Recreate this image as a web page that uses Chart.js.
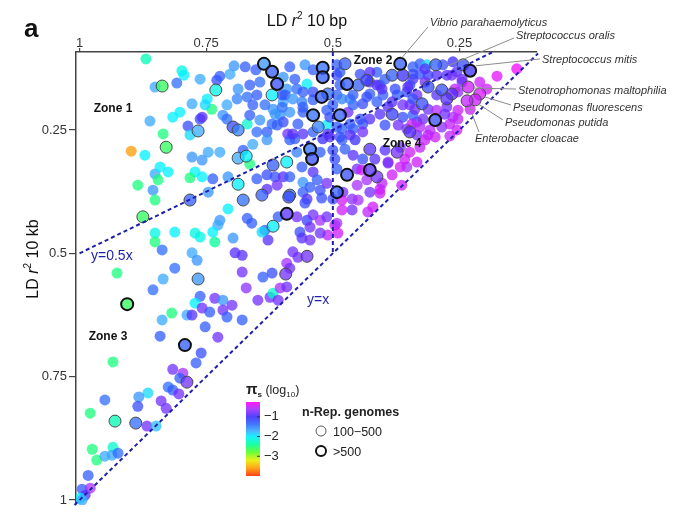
<!DOCTYPE html>
<html>
<head>
<meta charset="utf-8">
<script src="https://cdn.jsdelivr.net/npm/chart.js@4.4.1/dist/chart.umd.min.js"></script>
<style>
  html, body { margin: 0; padding: 0; background: #fff; }
  #wrap { width: 680px; height: 524px; position: relative; }
</style>
</head>
<body>
<div id="wrap"><canvas id="ldChart"></canvas></div>
<script>
// one point per species: LD r2 at 10 bp (x) against LD r2 at 10 kb (y)
const ld10bp = [
  0.869,0.798,0.794,0.837,0.851,0.808,0.762,0.729,0.723,0.731,
  0.695,0.673,0.703,0.636,0.620,0.610,0.620,0.652,0.644,0.664,
  0.687,0.669,0.689,0.709,0.748,0.739,0.752,0.778,0.802,0.816,
  0.861,0.835,0.829,0.898,0.871,0.786,0.766,0.762,0.758,0.782,
  0.717,0.709,0.697,0.687,0.669,0.664,0.644,0.650,0.630,0.620,
  0.604,0.598,0.618,0.634,0.658,0.650,0.598,0.600,0.630,0.658,
  0.687,0.671,0.664,0.677,0.723,0.746,0.758,0.778,0.772,0.782,
  0.758,0.737,0.707,0.687,0.650,0.630,0.618,0.614,0.598,0.630,
  0.640,0.677,0.782,0.851,0.825,0.841,0.845,0.855,0.885,0.851,
  0.591,0.589,0.585,0.555,0.539,0.520,0.520,0.551,0.571,0.591,
  0.522,0.510,0.539,0.561,0.539,0.559,0.585,0.569,0.529,0.512,
  0.559,0.575,0.545,0.541,0.561,0.539,0.531,0.559,0.585,0.610,
  0.585,0.559,0.525,0.492,0.492,0.496,0.472,0.452,0.443,0.427,
  0.413,0.433,0.407,0.452,0.480,0.500,0.462,0.373,0.397,0.417,
  0.441,0.460,0.476,0.482,0.456,0.427,0.348,0.334,0.354,0.391,
  0.364,0.334,0.348,0.334,0.362,0.383,0.407,0.427,0.441,0.460,
  0.482,0.486,0.470,0.460,0.441,0.413,0.391,0.348,0.334,0.354,
  0.373,0.401,0.427,0.450,0.433,0.472,0.486,0.476,0.446,0.413,
  0.383,0.367,0.362,0.342,0.427,0.407,0.492,0.466,0.500,0.506,
  0.585,0.506,0.520,0.571,0.525,0.500,0.545,0.551,0.328,0.314,
  0.297,0.283,0.263,0.243,0.229,0.255,0.275,0.295,0.312,0.328,
  0.342,0.348,0.312,0.285,0.265,0.275,0.233,0.210,0.219,0.235,
  0.176,0.137,0.210,0.196,0.245,0.253,0.295,0.324,0.342,0.312,
  0.295,0.275,0.253,0.229,0.263,0.279,0.298,0.322,0.342,0.354,
  0.328,0.308,0.285,0.269,0.298,0.318,0.367,0.358,0.328,0.587,
  0.591,0.618,0.551,0.593,0.766,0.707,0.723,0.727,0.737,0.733,
  0.772,0.778,0.768,0.697,0.669,0.660,0.634,0.628,0.640,0.608,
  0.571,0.565,0.561,0.555,0.551,0.539,0.525,0.512,0.496,0.510,
  0.525,0.545,0.579,0.569,0.591,0.585,0.620,0.638,0.679,0.693,
  0.679,0.671,0.648,0.624,0.618,0.608,0.604,0.591,0.762,0.772,
  0.788,0.778,0.758,0.743,0.733,0.717,0.717,0.699,0.709,0.679,
  0.752,0.727,0.875,0.906,0.792,0.926,0.851,0.851,0.837,0.812,
  0.835,0.855,0.837,0.841,0.818,0.746,0.812,0.762,0.760,0.770,
  0.934,0.816,0.796,0.802,0.788,0.825,0.816,0.804,0.865,0.883,
  0.950,0.839,0.829,0.885,0.979,0.930,0.889,0.867,0.849,0.975,
  0.966,0.934,0.950,0.936,0.924,0.983,0.995,0.979,0.989,0.999,
  0.995,0.482,0.462,0.482,0.450,0.427,0.407,0.431,0.421,0.492,
  0.490,0.383,0.403,0.391,0.367,0.512,0.522,0.545,
  0.575,0.598,0.594,0.579,0.559,0.539,0.600,0.559,0.512,0.539,
  0.579,0.610,0.614,0.492,0.492,0.486,0.427,0.413,0.433,0.460,
  0.482,0.492,0.466,0.446,0.441,0.466,0.486,0.510,
  0.342,0.397,0.403,0.377,0.352,0.318,0.265,0.245,0.318,0.259,
  0.338,0.362,0.383,0.344,0.253,0.312,0.371,0.397,0.255,0.269
];
const ld10kb = [
  0.106,0.130,0.139,0.161,0.163,0.155,0.147,0.149,0.141,0.169,
  0.120,0.122,0.137,0.116,0.132,0.157,0.179,0.128,0.153,0.159,
  0.167,0.183,0.187,0.199,0.187,0.208,0.199,0.197,0.214,0.224,
  0.232,0.258,0.285,0.293,0.301,0.242,0.252,0.228,0.224,0.260,
  0.220,0.228,0.244,0.250,0.238,0.220,0.230,0.254,0.254,0.238,
  0.220,0.234,0.208,0.199,0.199,0.179,0.193,0.179,0.270,0.279,
  0.307,0.303,0.319,0.291,0.295,0.295,0.311,0.305,0.335,0.347,
  0.345,0.349,0.345,0.360,0.349,0.341,0.321,0.345,0.345,0.370,
  0.382,0.392,0.392,0.339,0.335,0.325,0.351,0.372,0.362,0.392,
  0.315,0.258,0.122,0.118,0.128,0.124,0.143,0.157,0.167,0.167,
  0.183,0.177,0.189,0.193,0.220,0.214,0.214,0.238,0.244,0.240,
  0.258,0.268,0.289,0.309,0.325,0.335,0.351,0.356,0.345,0.362,
  0.382,0.376,0.372,0.376,0.329,0.309,0.341,0.329,0.331,0.331,
  0.345,0.351,0.370,0.362,0.376,0.390,0.390,0.295,0.291,0.309,
  0.309,0.301,0.289,0.270,0.270,0.289,0.295,0.315,0.325,0.315,
  0.362,0.260,0.254,0.234,0.224,0.218,0.218,0.228,0.238,0.248,
  0.248,0.220,0.214,0.199,0.197,0.193,0.203,0.199,0.179,0.173,
  0.179,0.179,0.177,0.159,0.149,0.157,0.133,0.116,0.137,0.133,
  0.139,0.116,0.139,0.122,0.153,0.159,0.179,0.187,0.199,0.224,
  0.270,0.264,0.268,0.295,0.295,0.291,0.366,0.390,0.116,0.118,
  0.118,0.118,0.112,0.118,0.130,0.132,0.139,0.139,0.139,0.137,
  0.147,0.159,0.163,0.169,0.177,0.187,0.163,0.177,0.189,0.191,
  0.141,0.126,0.153,0.167,0.153,0.173,0.179,0.197,0.187,0.208,
  0.210,0.203,0.210,0.208,0.224,0.218,0.230,0.228,0.220,0.248,
  0.244,0.250,0.244,0.238,0.264,0.270,0.285,0.309,0.285,0.386,
  0.420,0.445,0.506,0.542,0.552,0.410,0.433,0.443,0.457,0.477,
  0.459,0.499,0.514,0.469,0.429,0.439,0.453,0.473,0.457,0.426,
  0.426,0.457,0.469,0.398,0.433,0.422,0.433,0.426,0.443,0.463,
  0.459,0.473,0.497,0.508,0.520,0.530,0.540,0.548,0.538,0.499,
  0.504,0.570,0.595,0.589,0.581,0.595,0.570,0.568,0.587,0.601,
  0.625,0.625,0.611,0.619,0.591,0.595,0.615,0.605,0.629,0.635,
  0.649,0.670,0.426,0.603,0.686,0.540,0.459,0.477,0.493,0.530,
  0.552,0.574,0.635,0.668,0.621,0.376,0.457,0.467,0.702,0.722,
  0.720,0.735,0.743,0.753,0.761,0.771,0.777,0.785,0.783,0.791,
  0.797,0.799,0.814,0.810,0.824,0.840,0.844,0.850,0.850,0.897,
  0.919,0.893,0.911,0.909,0.905,0.950,0.978,0.976,0.990,0.996,
  1.000,0.392,0.412,0.412,0.392,0.376,0.378,0.416,0.406,0.439,
  0.459,0.341,0.358,0.317,0.325,0.358,0.388,0.447,
  0.147,0.143,0.179,0.187,0.173,0.173,0.204,0.204,0.210,0.254,
  0.258,0.240,0.218,0.118,0.139,0.159,0.133,0.159,0.183,0.179,
  0.187,0.244,0.238,0.228,0.254,0.260,0.264,0.258,
  0.137,0.147,0.167,0.167,0.163,0.126,0.139,0.147,0.153,0.167,
  0.208,0.199,0.193,0.238,0.228,0.260,0.240,0.240,0.250,0.262
];
// synonymous diversity, log10
const piS = [
  -2.3,-2.1,-2.0,-2.6,-1.7,-1.4,-1.7,-1.2,-1.3,-2.1,
  -1.6,-1.3,-1.7,-1.6,-1.3,-1.2,-2.0,-1.3,-1.4,-1.3,
  -1.6,-1.4,-1.5,-1.7,-2.0,-2.5,-1.9,-1.7,-2.0,-2.0,
  -1.7,-2.5,-2.6,-3.6,-2.0,-1.2,-1.7,-1.2,-0.9,-1.9,
  -1.6,-1.4,-1.2,-1.5,-2.2,-1.3,-1.6,-1.4,-1.3,-1.4,
  -1.6,-1.2,-1.6,-1.4,-1.3,-1.3,-1.7,-1.2,-1.6,-1.7,
  -1.7,-2.0,-2.5,-1.3,-1.7,-1.7,-1.6,-1.6,-2.0,-2.5,
  -2.0,-1.3,-1.6,-2.0,-1.3,-1.2,-1.3,-1.2,-0.9,-0.9,
  -1.3,-1.4,-1.3,-1.7,-2.0,-2.0,-2.5,-1.6,-2.5,-2.5,
  -2.0,-0.8,-1.3,-1.6,-1.3,-1.4,-1.3,-2.0,-1.4,-1.6,
  -1.3,-1.4,-1.3,-1.5,-1.4,-1.3,-1.6,-1.3,-1.5,-2.0,
  -0.9,-1.3,-1.4,-1.2,-1.3,-0.9,-1.3,-1.6,-1.3,-0.8,
  -1.4,-1.3,-1.2,-1.3,-1.3,-1.2,-1.2,-0.8,-0.45,-0.9,
  -0.8,-0.6,-0.45,-0.6,-0.8,-1.2,-0.7,-0.8,-0.9,-0.9,
  -1.2,-0.9,-1.3,-1.3,-1.0,-0.9,-0.45,-0.45,-0.6,-0.6,
  -0.45,-0.8,-0.9,-0.8,-1.2,-1.1,-0.9,-0.9,-1.2,-1.3,
  -1.3,-1.3,-0.8,-1.3,-1.2,-1.3,-0.9,-0.8,-0.8,-1.2,
  -1.3,-1.3,-1.3,-1.3,-1.1,-1.3,-1.3,-1.3,-1.2,-1.3,
  -1.3,-1.3,-1.0,-1.3,-0.9,-1.2,-1.3,-1.5,-1.3,-1.2,
  -1.3,-0.9,-1.0,-1.5,-1.3,-1.2,-1.3,-0.9,-1.3,-1.9,
  -1.3,-1.2,-1.0,-1.2,-1.0,-0.9,-0.9,-0.9,-1.1,-1.2,
  -0.9,-1.2,-1.2,-1.2,-0.9,-0.9,-0.45,-0.4,-0.45,-0.5,
  -0.35,-0.3,-0.45,-0.45,-0.8,-0.7,-0.9,-1.2,-1.2,-0.8,
  -0.55,-0.8,-0.45,-0.45,-0.55,-0.8,-1.2,-0.8,-1.3,-0.8,
  -0.55,-0.55,-0.7,-0.5,-0.45,-0.45,-0.8,-0.45,-0.5,-1.2,
  -0.9,-2.0,-0.8,-0.8,-1.6,-2.0,-1.6,-1.7,-2.0,-2.4,
  -2.1,-1.7,-1.6,-1.6,-1.3,-1.3,-1.3,-0.9,-1.9,-1.3,
  -0.8,-1.2,-0.9,-1.2,-1.1,-0.8,-0.6,-0.8,-0.45,-0.5,
  -0.8,-0.8,-0.8,-0.8,-0.6,-0.8,-1.2,-1.3,-0.8,-0.9,
  -0.9,-0.7,-0.8,-0.8,-2.2,-0.8,-0.6,-0.8,-1.3,-2.0,
  -1.7,-0.9,-0.8,-1.3,-0.8,-1.6,-0.8,-0.8,-1.3,-1.3,
  -1.3,-0.8,-2.6,-2.6,-1.3,-2.5,-2.1,-2.5,-1.4,-1.4,
  -1.7,-1.4,-1.7,-1.3,-2.5,-1.6,-2.0,-2.1,-1.2,-1.3,
  -2.5,-0.8,-0.6,-1.3,-0.8,-1.4,-1.3,-0.8,-1.9,-1.6,
  -1.4,-0.8,-0.8,-1.2,-2.5,-2.3,-1.4,-0.8,-1.8,-2.5,
  -2.5,-2.2,-1.7,-1.7,-1.4,-1.3,-1.3,-0.6,-0.9,-2.0,
  -1.7,-0.45,-0.8,-0.45,-0.6,-0.8,-0.45,-0.5,-0.45,-0.6,
  -0.45,-0.45,-0.5,-0.8,-0.45,-0.8,-1.2,-0.8,
  -1.3,-1.6,-1.3,-1.6,-1.3,-1.2,-1.4,-1.3,-1.3,-1.3,
  -0.9,-1.3,-1.6,-1.3,-1.2,-1.3,-0.9,-0.9,-1.2,-1.3,
  -1.5,-1.3,-1.3,-1.2,-0.8,-0.9,-1.2,-0.9,
  -1.2,-1.3,-0.9,-1.2,-0.9,-0.9,-0.8,-0.8,-0.8,-0.5,
  -0.8,-0.8,-0.9,-0.5,-0.5,-0.5,-0.8,-1.2,-0.45,-0.5
];
// representative genomes: 0 below 100, 1 = 100-500, 2 = >500
const nRep = [
  0,0,0,1,0,0,0,0,0,1,
  0,0,0,2,2,2,1,0,0,0,
  0,0,0,0,0,0,0,0,0,0,
  0,0,1,0,0,0,1,0,0,0,
  0,0,1,1,0,0,0,0,0,0,
  0,0,0,0,0,0,0,0,0,0,
  1,1,0,0,0,0,0,0,0,0,
  0,0,0,1,0,0,1,0,0,0,
  1,1,1,0,0,0,0,0,0,0,
  1,0,0,0,0,2,2,0,0,0,
  2,1,0,0,2,0,0,0,1,0,
  0,0,2,2,0,0,0,0,0,0,
  1,0,0,2,0,0,2,0,0,2,
  1,0,0,0,0,0,0,1,0,0,
  0,0,0,0,0,1,0,0,0,0,
  0,0,1,0,0,1,0,0,0,0,
  0,2,0,0,0,0,0,0,0,0,
  0,0,0,1,1,2,0,1,0,0,
  1,2,1,0,0,0,0,0,0,0,
  0,0,0,0,0,0,0,0,0,0,
  1,0,0,1,2,0,0,0,0,0,
  0,0,1,1,1,1,1,1,1,1,
  0,0,0,0,0,0,0,1,0,0,
  0,0,0,0,0,0,2,0,0,0,
  0,0,0,0,0,0,0,0,0,1,
  2,1,1,1,1,0,0,0,0,0,
  0,0,0,0,0,0,0,0,0,0,
  0,0,0,0,0,0,0,0,0,0,
  0,0,0,0,0,0,0,0,0,0,
  0,0,0,0,0,0,0,0,0,0,
  0,0,0,0,0,0,0,0,0,0,
  0,0,1,2,2,0,0,0,0,0,
  0,0,0,0,0,0,0,0,0,0,
  0,0,0,0,1,0,0,0,0,0,
  0,0,0,0,0,1,1,0,0,0,
  0,0,0,0,0,0,0,0,0,0,
  0,0,0,0,0,0,0,0,0,0,
  0,0,0,0,0,0,0,0,
  0,0,0,0,0,0,0,0,0,0,
  0,0,0,0,0,0,0,0,0,0,
  0,0,0,0,0,0,0,0,
  0,0,0,0,0,0,0,0,0,0,
  0,0,0,0,0,0,0,0,0,0
];

const xTicks = [1, 0.75, 0.5, 0.25];
const yTicks = [0.25, 0.5, 0.75, 1];
const cbarTicks = [-1, -2, -3];
const piRange = [-4.0, -0.25];

// reference lines y = x, y = 0.5x and x = 0.5
const lineYX = { x: [1.01, 0.095], y: [1.01, 0.095] };
const lineHalf = { x: [1.0, 0.186], y: [0.5, 0.093] };
const lineMid = { x: [0.5, 0.5], y: [0.092, 0.5] };

const speciesNames = ['Vibrio parahaemolyticus', 'Streptococcus oralis', 'Streptococcus mitis',
  'Stenotrophomonas maltophilia', 'Pseudomonas fluorescens', 'Pseudomonas putida', 'Enterobacter cloacae'];
const speciesAt10bp = [0.364, 0.273, 0.218, 0.222, 0.200, 0.212, 0.231];
const speciesAt10kb = [0.104, 0.120, 0.120, 0.165, 0.183, 0.198, 0.202];

const FONT = '"Liberation Sans", Arial, Helvetica, sans-serif';
const LINE_BLUE = '#1f1fae';

// rainbow colour map for pi_s
const cmapStops = [-4.0, -3.6, -3.2, -2.8, -2.4, -2.0, -1.7, -1.4, -1.0, -0.6, -0.25];
const cmapRGB = [[255,42,0],[255,154,0],[230,240,0],[92,255,32],[0,255,153],[0,240,255],
  [58,168,255],[47,108,255],[58,44,255],[165,48,255],[255,0,255]];

function piColor(v, a) {
  v = Math.max(cmapStops[0], Math.min(cmapStops[cmapStops.length - 1], v));
  let i = 0;
  while (i < cmapStops.length - 2 && v > cmapStops[i + 1]) i++;
  const t = (v - cmapStops[i]) / (cmapStops[i + 1] - cmapStops[i]);
  const c = cmapRGB[i].map((c0, k) => Math.round(c0 + t * (cmapRGB[i + 1][k] - c0)));
  return `rgba(${c[0]},${c[1]},${c[2]},${a})`;
}

function pointsFor(n) {
  const idx = ld10bp.map((_, i) => i).filter(i => nRep[i] === n);
  return {
    data: idx.map(i => ({ x: ld10bp[i], y: ld10kb[i] })),
    colors: idx.map(i => piColor(piS[i], 0.75)),
  };
}

function refLine(l) {
  return {
    data: l.x.map((x, i) => ({ x: x, y: l.y[i] })),
    showLine: true,
    borderColor: LINE_BLUE,
    borderWidth: 2,
    borderDash: [4, 3],
    pointRadius: 0,
    clip: false,
    order: 0,
  };
}

function drawRuns(ctx, runs, x, y) {
  let w = 0;
  runs.forEach(r => { ctx.font = r[1]; w += ctx.measureText(r[0]).width; });
  let cx = x - w / 2;
  runs.forEach(r => {
    ctx.font = r[1];
    ctx.fillText(r[0], cx, y + (r[2] || 0));
    cx += ctx.measureText(r[0]).width;
  });
}

const overlay = {
  id: 'overlay',
  afterDraw(chart) {
    const ctx = chart.ctx;
    const xs = chart.scales.x, ys = chart.scales.y;
    ctx.save();
    ctx.textAlign = 'left';
    ctx.textBaseline = 'alphabetic';
    ctx.fillStyle = '#111';

    ctx.font = 'bold 26px ' + FONT;
    ctx.fillText('a', 24, 37);

    const titleRuns = unit => [['LD ', '16px ' + FONT], ['r', 'italic 16px ' + FONT],
      ['2', '10px ' + FONT, -7], [' 10 ' + unit, '16px ' + FONT]];
    drawRuns(ctx, titleRuns('bp'), 307, 26);
    ctx.save();
    ctx.translate(38, 259);
    ctx.rotate(-Math.PI / 2);
    drawRuns(ctx, titleRuns('kb'), 0, 0);
    ctx.restore();

    // zones
    ctx.font = 'bold 12px ' + FONT;
    ctx.textAlign = 'center';
    [['Zone 1', 113, 112], ['Zone 2', 373, 64], ['Zone 3', 108, 340], ['Zone 4', 402, 147]]
      .forEach(z => ctx.fillText(z[0], z[1], z[2]));

    ctx.textAlign = 'left';
    ctx.fillStyle = LINE_BLUE;
    ctx.font = '14px ' + FONT;
    ctx.fillText('y=0.5x', 91, 260);
    ctx.fillText('y=x', 307, 304);

    // species labels with leader lines
    const textPos = [[430, 22], [516, 35], [542, 59], [518, 90], [513, 107], [505, 122], [475, 138]];
    const lineFrom = [[428, 27], [514, 38], [540, 59], [516, 89], [511, 105], [503, 120], [479, 132]];
    ctx.strokeStyle = '#8c8c8c';
    ctx.lineWidth = 1;
    speciesNames.forEach((s, i) => {
      ctx.beginPath();
      ctx.moveTo(lineFrom[i][0], lineFrom[i][1]);
      ctx.lineTo(xs.getPixelForValue(speciesAt10bp[i]), ys.getPixelForValue(speciesAt10kb[i]));
      ctx.stroke();
    });
    ctx.fillStyle = '#333';
    ctx.font = 'italic 11px ' + FONT;
    speciesNames.forEach((s, i) => ctx.fillText(s, textPos[i][0], textPos[i][1] + 4));

    // colour bar
    const cb = { x: 246, y0: 402, y1: 476, w: 14 };
    const vy = v => cb.y0 + (piRange[1] - v) / (piRange[1] - piRange[0]) * (cb.y1 - cb.y0);
    const grad = ctx.createLinearGradient(0, cb.y1, 0, cb.y0);
    cmapStops.forEach(v => grad.addColorStop((v - piRange[0]) / (piRange[1] - piRange[0]), piColor(v, 0.9)));
    ctx.fillStyle = grad;
    ctx.fillRect(cb.x, cb.y0, cb.w, cb.y1 - cb.y0);
    ctx.strokeStyle = '#333';
    ctx.fillStyle = '#222';
    ctx.font = '13px ' + FONT;
    ctx.textBaseline = 'middle';
    cbarTicks.forEach(v => {
      const y = vy(v);
      ctx.beginPath();
      ctx.moveTo(cb.x + cb.w - 3, y);
      ctx.lineTo(cb.x + cb.w, y);
      ctx.stroke();
      ctx.fillText('\u2212' + Math.abs(v), cb.x + cb.w + 4, y);
    });
    ctx.textBaseline = 'alphabetic';
    ctx.textAlign = 'left';
    let cx = 246;
    [['\u03c0', 'bold 15px ' + FONT, 0], ['s', 'bold 8px ' + FONT, 3], [' (log', '12.5px ' + FONT, 0],
      ['10', '8px ' + FONT, 3], [')', '12.5px ' + FONT, 0]].forEach(r => {
      ctx.font = r[1];
      ctx.fillText(r[0], cx, 394 + r[2]);
      cx += ctx.measureText(r[0]).width;
    });

    // genome count legend
    ctx.font = 'bold 12.5px ' + FONT;
    ctx.fillText('n-Rep. genomes', 302, 416);
    ctx.font = '12.5px ' + FONT;
    [[431, 1, '#555', '100\u2212500'], [451, 2, '#111', '>500']].forEach(r => {
      ctx.beginPath();
      ctx.arc(321, r[0], 5, 0, Math.PI * 2);
      ctx.fillStyle = '#fff';
      ctx.fill();
      ctx.lineWidth = r[1];
      ctx.strokeStyle = r[2];
      ctx.stroke();
      ctx.fillStyle = '#222';
      ctx.fillText(r[3], 333, r[0] + 4.5);
    });
    ctx.restore();
  }
};

const plain = pointsFor(0), mid = pointsFor(1), big = pointsFor(2);

new Chart(document.getElementById('ldChart'), {
  type: 'scatter',
  data: {
    datasets: [
      refLine(lineYX), refLine(lineHalf), refLine(lineMid),
      { data: big.data, backgroundColor: big.colors, borderColor: '#111', borderWidth: 2, pointRadius: 6, order: 1 },
      { data: mid.data, backgroundColor: mid.colors, borderColor: '#4a4a4a', borderWidth: 1, pointRadius: 6, order: 2 },
      { data: plain.data, backgroundColor: plain.colors, borderWidth: 0, pointRadius: 5.5, order: 3 },
    ],
  },
  options: {
    responsive: true,
    maintainAspectRatio: false,
    animation: false,
    layout: { padding: { left: 0, top: 0, right: 143, bottom: 19 } },
    plugins: { legend: { display: false }, tooltip: { enabled: false } },
    scales: {
      x: {
        type: 'linear',
        position: 'top',
        reverse: true,
        min: 0.097,
        max: 1.007,
        afterBuildTicks: s => { s.ticks = xTicks.map(v => ({ value: v })); },
        afterFit: s => { s.height = 52; },
        ticks: { color: '#333', font: { size: 13, family: FONT }, padding: -3, maxRotation: 0,
          callback: v => String(v) },
        grid: { drawOnChartArea: false, drawTicks: true, tickLength: 4, color: '#444', lineWidth: 1.2 },
        border: { display: true, color: '#444', width: 1.5 },
      },
      y: {
        type: 'linear',
        reverse: true,
        min: 0.092,
        max: 1.010,
        afterBuildTicks: s => { s.ticks = yTicks.map(v => ({ value: v })); },
        afterFit: s => { s.width = 76; },
        ticks: { color: '#333', font: { size: 13, family: FONT }, padding: 2,
          callback: v => String(v) },
        grid: { drawOnChartArea: false, drawTicks: true, tickLength: 7, color: '#444', lineWidth: 1.2 },
        border: { display: true, color: '#444', width: 1.5 },
      },
    },
  },
  plugins: [overlay],
});
</script>
</body>
</html>
